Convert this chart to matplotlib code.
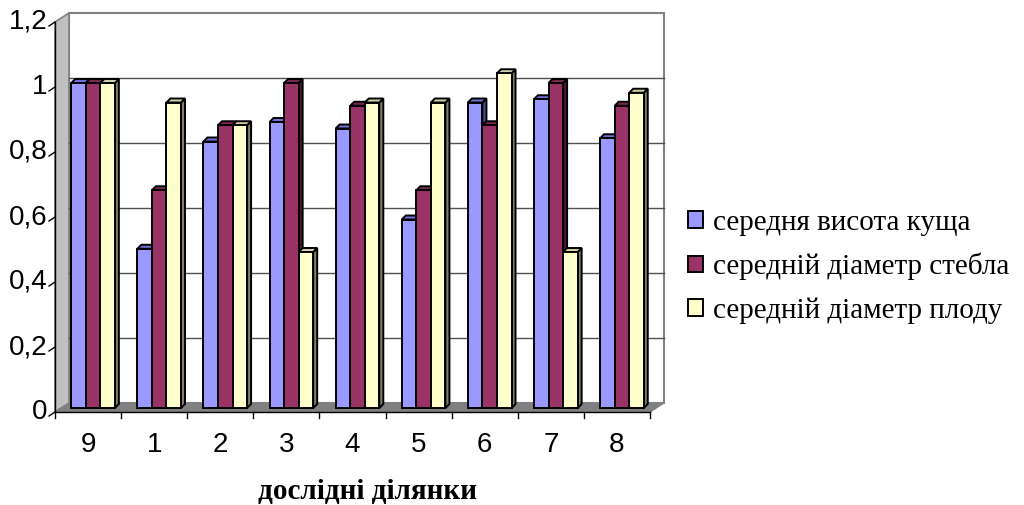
import matplotlib
matplotlib.use("Agg")
import matplotlib.pyplot as plt
from matplotlib.patches import Polygon, Patch

categories = ["9", "1", "2", "3", "4", "5", "6", "7", "8"]
bush_height = [1.0, 0.49, 0.82, 0.88, 0.86, 0.58, 0.94, 0.95, 0.83]
stem_diam = [1.0, 0.67, 0.87, 1.0, 0.93, 0.67, 0.87, 1.0, 0.93]
fruit_diam = [1.0, 0.94, 0.87, 0.48, 0.94, 0.94, 1.03, 0.48, 0.97]
series_names = ["середня висота куща", "середній діаметр стебла", "середній діаметр плоду"]
yticks = [0, 0.2, 0.4, 0.6, 0.8, 1.0, 1.2]
ytick_labels = ["0", "0,2", "0,4", "0,6", "0,8", "1", "1,2"]
xlabel = "дослідні ділянки"

face_cols = ["#9999ff", "#993366", "#ffffcc"]
top_cols = ["#7070d8", "#7a2952", "#d0d0a8"]
side_cols = ["#4d4d99", "#4d1a33", "#808066"]

W, H = 1024, 505
fig = plt.figure(figsize=(W / 100, H / 100), dpi=100)
# front plane of the 3d box, in pixels
L, R, B, T = 55, 650, 412, 22
ax = fig.add_axes([L / W, (H - B) / H, (R - L) / W, (B - T) / H])
n = len(categories)
ymax = yticks[-1]
ax.set_xlim(0, n)
ax.set_ylim(0, ymax)
ax.axis("off")

sx = (R - L) / n
sy = (B - T) / ymax
def px(dx, dy):
    return dx / sx, dy / sy

wx, wy = px(14, 9)      # back wall offset
bx, by = px(5, 4)       # bar plane offset
dx, dy = px(4, 4)       # bar depth
grid_c = "#505050"
wall_c = "#808080"

# walls and floor
ax.add_patch(Polygon([(wx, wy), (n + wx, wy), (n + wx, ymax + wy), (wx, ymax + wy)],
                     fc="white", ec=wall_c, lw=1.5, clip_on=False, zorder=1))
ax.add_patch(Polygon([(0, 0), (0, ymax), (wx, ymax + wy), (wx, wy)],
                     fc="#c0c0c0", ec=wall_c, lw=1.2, clip_on=False, zorder=1))
ax.add_patch(Polygon([(0, 0), (n, 0), (n + wx, wy), (wx, wy)],
                     fc="#808080", ec="#808080", lw=1, clip_on=False, zorder=1))
for v in yticks[1:-1]:
    ax.plot([wx, n + wx], [v + wy, v + wy], color=grid_c, lw=1, zorder=2, clip_on=False)

# axes lines and ticks
tx, ty = px(6, 4)
ax.plot([0, 0], [0, ymax], color="black", lw=1, zorder=3, clip_on=False)
ax.plot([0, n], [0, 0], color="black", lw=1, zorder=3, clip_on=False)
for v, lab in zip(yticks, ytick_labels):
    ax.plot([-tx, 0], [v - ty, v], color="black", lw=1, clip_on=False, zorder=3)
    ax.text(-tx - 0.02, v, lab, ha="right", va="center", fontsize=20,
            family="Liberation Sans")
_, tl = px(0, 6)
for i in range(n + 1):
    ax.plot([i, i], [0, -tl], color="black", lw=1, clip_on=False, zorder=3)
for i, lab in enumerate(categories):
    ax.text(i + 0.5, -0.1, lab, ha="center", va="center", fontsize=20,
            family="Liberation Sans")
fig.text(367 / W, 1 - 492 / H, xlabel, ha="center", va="center", fontsize=21,
         family="Liberation Serif", weight="bold")

# bars
bw = 0.22
series = [bush_height, stem_diam, fruit_diam]
z = 5
for i in range(n):
    for j, vals in enumerate(series):
        v = vals[i]
        x0 = i + 0.5 + (j - 1) * bw - bw / 2 + bx
        x1 = x0 + bw
        ax.add_patch(Polygon([(x1, by), (x1, v + by), (x1 + dx, v + by + dy), (x1 + dx, by + dy)],
                             fc=side_cols[j], ec="black", lw=1.4, zorder=z, clip_on=False))
        ax.add_patch(Polygon([(x0, v + by), (x1, v + by), (x1 + dx, v + by + dy), (x0 + dx, v + by + dy)],
                             fc=top_cols[j], ec="black", lw=1.4, zorder=z, clip_on=False))
        ax.bar(x0, v, width=bw, bottom=by, align="edge", color=face_cols[j],
               edgecolor="black", lw=1.4, zorder=z + 0.5, clip_on=False)
        z += 1

handles = [Patch(fc=c, ec="black", lw=1.4) for c in face_cols]
fig.legend(handles, series_names, loc="center left", bbox_to_anchor=(688 / W, 1 - 267 / H),
           frameon=False, prop={"family": "Liberation Serif", "size": 21},
           handlelength=0.5, handleheight=0.5, handletextpad=0.35, labelspacing=0.58,
           borderaxespad=0, borderpad=0)

fig.savefig("out.png", dpi=100)
